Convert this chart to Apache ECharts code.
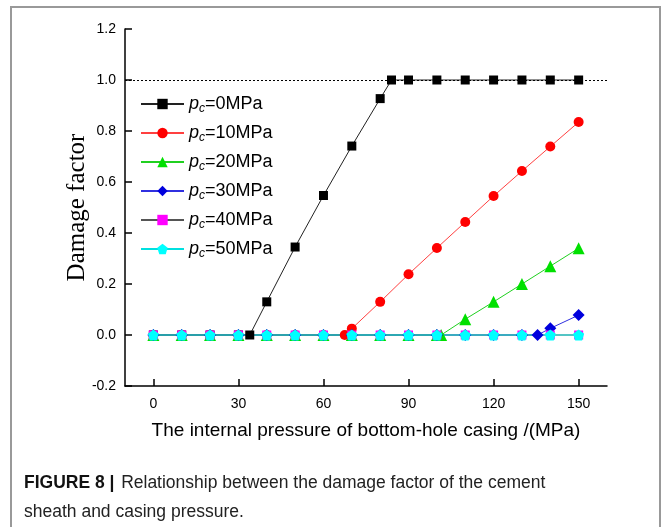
<!DOCTYPE html>
<html>
<head>
<meta charset="utf-8">
<script src="https://cdn.jsdelivr.net/npm/echarts@6/dist/echarts.min.js"></script>
<style>
html,body{margin:0;padding:0;background:#fff;}
#chart{width:664px;height:527px;}
</style>
</head>
<body>
<div id="chart"></div>
<script>
// data
var names = ['pc=0MPa','pc=10MPa','pc=20MPa','pc=30MPa','pc=40MPa','pc=50MPa']
var xTicks = [0,30,60,90,120,150]

var pc0X = [0,10,20,30,34,40,50,60,70,80,84,90,100,110,120,130,140,150]
var pc0Y = [0,0,0,0,0,0.13,0.345,0.547,0.741,0.927,1,1,1,1,1,1,1,1]

var pc10X = [0,10,20,30,40,50,60,67.5,70,80,90,100,110,120,130,140,150]
var pc10Y = [0,0,0,0,0,0,0,0,0.025,0.13,0.238,0.341,0.443,0.545,0.643,0.739,0.835]

var pc20X = [0,10,20,30,40,50,60,70,80,90,100,101.5,110,120,130,140,150]
var pc20Y = [0,0,0,0,0,0,0,0,0,0,0,0,0.062,0.13,0.2,0.27,0.34]

var pc30X = [0,10,20,30,40,50,60,70,80,90,100,110,120,130,135.5,140,150]
var pc30Y = [0,0,0,0,0,0,0,0,0,0,0,0,0,0,0,0.026,0.078]

var pc40X = [0,10,20,30,40,50,60,70,80,90,100,110,120,130,140,150]
var pc40Y = [0,0,0,0,0,0,0,0,0,0,0,0,0,0,0,0]

var pc50X = [0,10,20,30,40,50,60,70,80,90,100,110,120,130,140,150]
var pc50Y = [0,0,0,0,0,0,0,0,0,0,0,0,0,0,0,0]

function pairs(xs, ys){
    return xs.map(function(x, i){ return [x, ys[i]] })
}

var pentagon = 'path://M0,-10 L9.5,-3.1 L5.9,8.1 L-5.9,8.1 L-9.5,-3.1 Z'
var sans = 'Liberation Sans, Arial, sans-serif'

var chart = echarts.init(document.getElementById('chart'))

var option = {
    animation:false,
    backgroundColor:'#fff',
    textStyle:{fontFamily:sans},
    grid:{left:125, right:57, top:29, bottom:141},
    legend:{
        orient:'vertical',
        left:135,
        top:88,
        itemWidth:43,
        itemHeight:13,
        itemGap:7,
        data:names,
        formatter:function(name){
            return '{p|p}{c|c}{t|' + name.slice(2) + '}'
        },
        textStyle:{
            color:'#000',
            rich:{
                p:{fontSize:18, fontStyle:'italic', color:'#000', lineHeight:16},
                c:{fontSize:12, fontStyle:'italic', color:'#000', lineHeight:12, padding:[10,0,0,0]},
                t:{fontSize:18, color:'#000', lineHeight:16}
            }
        }
    },
    xAxis:{
        type:'value',
        min:-10,
        max:160,
        name:'The internal pressure of bottom-hole casing /(MPa)',
        nameLocation:'middle',
        nameGap:35,
        nameMoveOverlap:false,
        nameTextStyle:{fontSize:19, color:'#000'},
        axisLine:{onZero:false, lineStyle:{color:'#000', width:1.5}},
        axisTick:{inside:true, length:7, customValues:xTicks, lineStyle:{color:'#000', width:1.5}},
        axisLabel:{fontSize:14, color:'#000', margin:11, customValues:xTicks},
        splitLine:{show:false}
    },
    yAxis:{
        type:'value',
        min:-0.2,
        max:1.2,
        interval:0.2,
        name:'Damage factor',
        nameLocation:'middle',
        nameGap:35,
        nameMoveOverlap:false,
        nameTextStyle:{fontSize:25, color:'#000', fontFamily:'Liberation Serif, Times New Roman, serif'},
        axisLine:{show:true, onZero:false, lineStyle:{color:'#000', width:1.5}},
        axisTick:{show:true, inside:true, length:7, lineStyle:{color:'#000', width:1.5}},
        axisLabel:{fontSize:14, color:'#000', margin:9, formatter:function(v){ return v.toFixed(1) }},
        splitLine:{show:false}
    },
    series:[
        {
            name:names[0], type:'line', data:pairs(pc0X, pc0Y),
            symbol:'rect', symbolSize:9,
            lineStyle:{color:'#222', width:1},
            itemStyle:{color:'#000'},
            markLine:{
                silent:true, symbol:'none', label:{show:false},
                lineStyle:{color:'#000', type:[2,2], width:1},
                data:[{yAxis:1}]
            }
        },
        {
            name:names[1], type:'line', data:pairs(pc10X, pc10Y),
            symbol:'circle', symbolSize:10,
            lineStyle:{color:'#ff4040', width:1},
            itemStyle:{color:'#ff0000'}
        },
        {
            name:names[2], type:'line', data:pairs(pc20X, pc20Y),
            symbol:'triangle', symbolSize:12,
            lineStyle:{color:'#20d020', width:1},
            itemStyle:{color:'#00e000'}
        },
        {
            name:names[3], type:'line', data:pairs(pc30X, pc30Y),
            symbol:'diamond', symbolSize:12,
            lineStyle:{color:'#3030e0', width:1},
            itemStyle:{color:'#0000dd'}
        },
        {
            name:names[4], type:'line', data:pairs(pc40X, pc40Y),
            symbol:'rect', symbolSize:9,
            lineStyle:{color:'#555', width:1},
            itemStyle:{color:'#ff00ff'}
        },
        {
            name:names[5], type:'line', data:pairs(pc50X, pc50Y),
            symbol:pentagon, symbolSize:11,
            lineStyle:{color:'#00e0e0', width:1},
            itemStyle:{color:'#00ffff'}
        }
    ],
    graphic:[
        {
            type:'rect', silent:true,
            shape:{x:11, y:7, width:649, height:540},
            style:{fill:'none', stroke:'#999', lineWidth:2}
        },
        {
            type:'text', left:24, top:474,
            style:{
                text:'{b|FIGURE 8 |}  {n|Relationship between the damage factor of the cement}',
                rich:{
                    b:{fontSize:17.5, fontWeight:'bold', fill:'#111', fontFamily:sans},
                    n:{fontSize:17.5, fill:'#222', fontFamily:sans}
                }
            }
        },
        {
            type:'text', left:24, top:503,
            style:{
                text:'sheath and casing pressure.',
                fontSize:17.5, fill:'#222',
                fontFamily:sans
            }
        }
    ]
}

chart.setOption(option)
</script>
</body>
</html>
